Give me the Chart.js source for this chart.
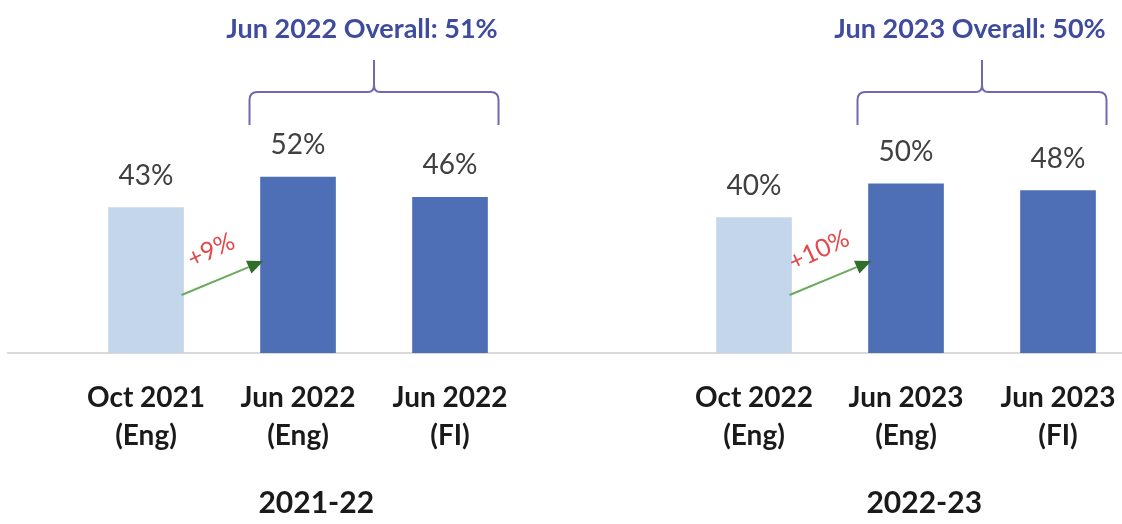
<!DOCTYPE html>
<html>
<head>
<meta charset="utf-8">
<script src="https://cdn.jsdelivr.net/npm/chart.js@4.4.1/dist/chart.umd.min.js"></script>
<style>
    html, body { margin: 0; padding: 0; background: #ffffff; }
    canvas { display: block; }
</style>
</head>
<body>
<canvas id="engChart" width="1122" height="524"></canvas>
<script>
// Datos del gráfico
const temporadas = ['2021-22', '2022-23'];
const periodos = [
    ['Oct 2021', '(Eng)'], ['Jun 2022', '(Eng)'], ['Jun 2022', '(FI)'],
    ['Oct 2022', '(Eng)'], ['Jun 2023', '(Eng)'], ['Jun 2023', '(FI)']
];
const resultados = [43, 52, 46, 40, 50, 48];
const globales = ['Jun 2022 Overall: 51%', 'Jun 2023 Overall: 50%'];
const mejoras = ['+9%', '+10%'];

// Cada temporada ocupa 3 huecos, con un hueco vacío entre ellas
const hueco = i => Math.floor(i / 3) * 4 + (i % 3);
const indiceDeHueco = v => {
    const r = Math.round(v);
    return Math.floor(r / 4) * 3 + (r % 4);
};

const X_MIN = -0.908;
const X_MAX = 6.421;

// Plugin para etiquetas, llaves y flechas
const anotaciones = {
    id: 'anotaciones',
    afterDatasetsDraw(chart) {
        const ctx = chart.ctx;
        const barras = chart.getDatasetMeta(0).data;
        const base = chart.scales.y.getPixelForValue(0);
        ctx.save();

        // valores encima de cada barra
        ctx.font = '28px Lato';
        ctx.fillStyle = '#404040';
        ctx.textAlign = 'center';
        ctx.textBaseline = 'alphabetic';
        barras.forEach((b, i) => ctx.fillText(resultados[i] + '%', b.x, b.y - 23));

        temporadas.forEach((t, g) => {
            const oct = barras[g * 3], jun = barras[g * 3 + 1], fi = barras[g * 3 + 2];

            // llave sobre las barras de junio
            const izq = jun.x - jun.width / 2 - 11;
            const der = fi.x + fi.width / 2 + 11;
            const mid = (izq + der) / 2;
            const yLinea = 92, yFin = 125, yPico = 60;
            ctx.strokeStyle = '#7168b4';
            ctx.lineWidth = 2;
            ctx.beginPath();
            ctx.moveTo(izq, yFin);
            ctx.lineTo(izq, yLinea + 8);
            ctx.quadraticCurveTo(izq, yLinea, izq + 8, yLinea);
            ctx.lineTo(mid - 6, yLinea);
            ctx.quadraticCurveTo(mid, yLinea, mid, yLinea - 7);
            ctx.lineTo(mid, yPico);
            ctx.moveTo(mid, yLinea - 7);
            ctx.quadraticCurveTo(mid, yLinea, mid + 6, yLinea);
            ctx.lineTo(der - 8, yLinea);
            ctx.quadraticCurveTo(der, yLinea, der, yLinea + 8);
            ctx.lineTo(der, yFin);
            ctx.stroke();

            ctx.font = 'bold 27px Lato';
            ctx.fillStyle = '#3e4b9e';
            ctx.textBaseline = 'middle';
            ctx.fillText(globales[g], mid - 12, 29);

            // flecha verde entre octubre y junio
            const x0 = oct.x + oct.width / 2 - 2, y0 = base - 58;
            const x1 = jun.x - jun.width / 2 + 3, y1 = base - 92;
            const ang = Math.atan2(y1 - y0, x1 - x0);
            const largo = 16, ancho = 7;
            const bx = x1 - largo * Math.cos(ang), by = y1 - largo * Math.sin(ang);
            ctx.strokeStyle = '#6aab5c';
            ctx.lineWidth = 2;
            ctx.beginPath();
            ctx.moveTo(x0, y0);
            ctx.lineTo(bx, by);
            ctx.stroke();
            ctx.fillStyle = '#2f6e2b';
            ctx.beginPath();
            ctx.moveTo(x1, y1);
            ctx.lineTo(bx - ancho * Math.sin(ang), by + ancho * Math.cos(ang));
            ctx.lineTo(bx + ancho * Math.sin(ang), by - ancho * Math.cos(ang));
            ctx.closePath();
            ctx.fill();

            // texto de mejora, girado como la flecha
            const mx = (x0 + x1) / 2 + 30 * Math.sin(ang);
            const my = (y0 + y1) / 2 - 30 * Math.cos(ang);
            ctx.save();
            ctx.translate(mx, my);
            ctx.rotate(ang * 1.1);
            ctx.font = '25px Lato';
            ctx.fillStyle = '#e5484a';
            ctx.textBaseline = 'middle';
            ctx.fillText(mejoras[g], 0, 0);
            ctx.restore();
        });
        ctx.restore();
    }
};

// Ajuste fijo de los ejes inferiores
const fijarEje = alto => axis => {
    axis.paddingLeft = 0;
    axis.paddingRight = 0;
    axis.height = alto;
};

new Chart(document.getElementById('engChart'), {
    type: 'bar',
    data: {
        datasets: [{
            data: resultados.map((v, i) => ({ x: hueco(i), y: v })),
            backgroundColor: c => (c.dataIndex % 3 === 0 ? '#c4d6ec' : '#4e6fb6'),
            borderWidth: 0,
            barThickness: 75
        }]
    },
    options: {
        responsive: false,
        animation: false,
        layout: { padding: { left: 8, right: 0, top: 150, bottom: 5 } },
        plugins: {
            legend: { display: false },
            tooltip: { enabled: false }
        },
        scales: {
            x: {
                type: 'linear',
                min: X_MIN,
                max: X_MAX,
                offset: false,
                grid: { display: false, drawTicks: false },
                border: { display: true, color: '#d9d9d9', width: 2 },
                afterBuildTicks: axis => {
                    axis.ticks = resultados.map((_, i) => ({ value: hueco(i) }));
                },
                afterFit: fijarEje(102),
                ticks: {
                    autoSkip: false,
                    maxRotation: 0,
                    minRotation: 0,
                    padding: 26,
                    color: '#1a1a1a',
                    font: { family: 'Lato', weight: 'bold', size: 28, lineHeight: 38 / 28 },
                    callback: v => periodos[indiceDeHueco(v)]
                }
            },
            temporada: {
                type: 'linear',
                position: 'bottom',
                axis: 'x',
                weight: 1,
                min: X_MIN,
                max: X_MAX,
                offset: false,
                grid: { display: false, drawTicks: false },
                border: { display: false },
                afterBuildTicks: axis => {
                    axis.ticks = temporadas.map((_, g) => ({ value: g * 4 + 1.12 }));
                },
                afterFit: fijarEje(64),
                ticks: {
                    autoSkip: false,
                    maxRotation: 0,
                    minRotation: 0,
                    padding: 32,
                    color: '#1a1a1a',
                    font: { family: 'Lato', weight: 'bold', size: 30, lineHeight: 32 / 30 },
                    callback: v => temporadas[Math.round((v - 1.12) / 4)]
                }
            },
            y: {
                display: false,
                min: 0,
                max: 60
            }
        }
    },
    plugins: [anotaciones]
});
</script>
</body>
</html>
